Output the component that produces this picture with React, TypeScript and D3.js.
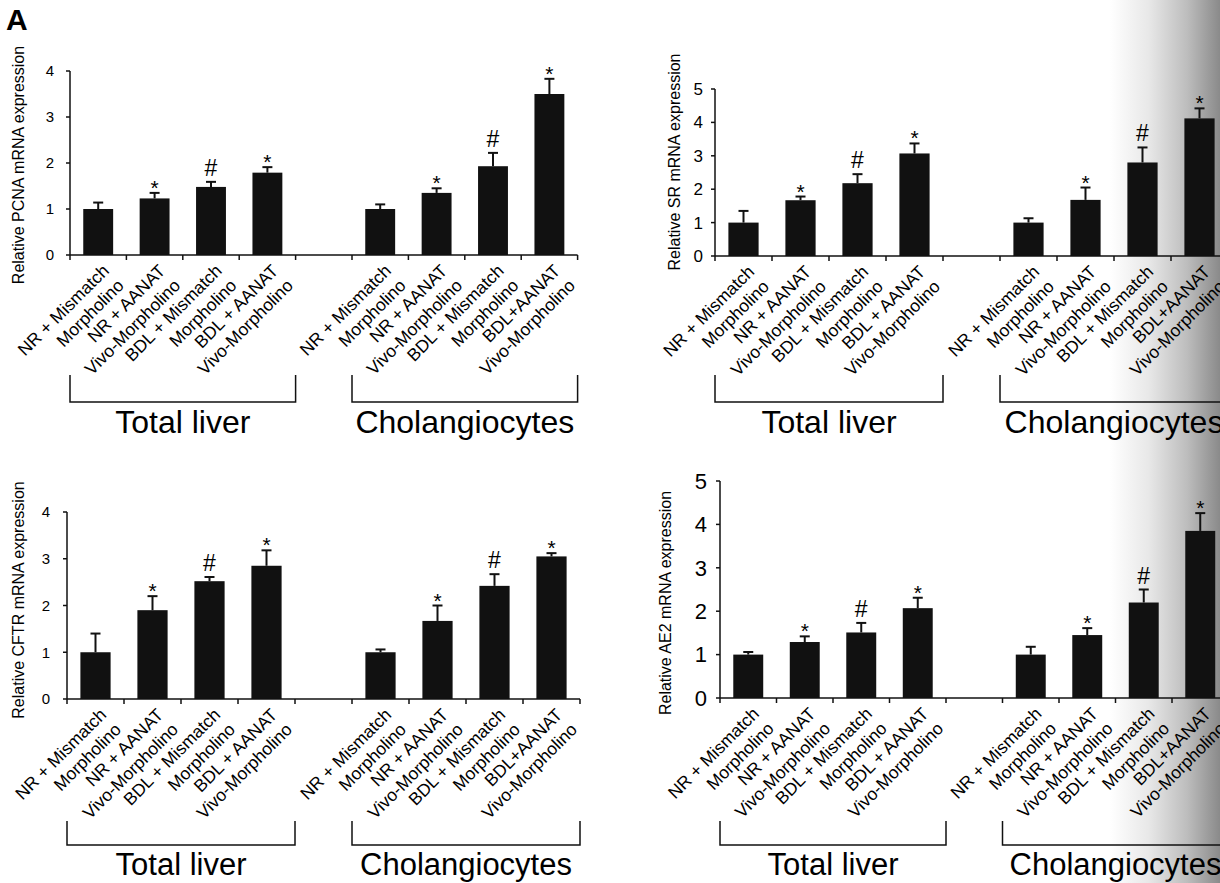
import React from "react";
import * as d3 from "d3";

// bar labels (two lines each), 4 total liver + 4 cholangiocytes
const labelLines = [
  ["NR + Mismatch", "Morpholino"],
  ["NR + AANAT", "Vivo-Morpholino"],
  ["BDL + Mismatch", "Morpholino"],
  ["BDL + AANAT", "Vivo-Morpholino"],
  ["NR + Mismatch", "Morpholino"],
  ["NR + AANAT", "Vivo-Morpholino"],
  ["BDL + Mismatch", "Morpholino"],
  ["BDL+AANAT", "Vivo-Morpholino"],
];
const slots = ["t1", "t2", "t3", "t4", "gap", "c1", "c2", "c3", "c4"];
const groups = ["Total liver", "Cholangiocytes"];
const markers = ["", "*", "#", "*", "", "*", "#", "*"];

const pcnaMean = [1.0, 1.23, 1.48, 1.79, 1.0, 1.35, 1.93, 3.5];
const pcnaErr = [0.14, 0.12, 0.11, 0.12, 0.1, 0.1, 0.29, 0.33];
const srMean = [1.0, 1.67, 2.18, 3.07, 1.0, 1.68, 2.8, 4.12];
const srErr = [0.35, 0.11, 0.27, 0.3, 0.13, 0.37, 0.45, 0.3];
const cftrMean = [1.0, 1.9, 2.52, 2.85, 1.0, 1.67, 2.42, 3.05];
const cftrErr = [0.4, 0.3, 0.09, 0.33, 0.06, 0.33, 0.25, 0.07];
const ae2Mean = [1.0, 1.29, 1.51, 2.07, 1.0, 1.45, 2.2, 3.85];
const ae2Err = [0.06, 0.13, 0.22, 0.24, 0.18, 0.16, 0.3, 0.41];

const FONT = "'Liberation Sans', Arial, sans-serif";

const panels = [
  { title: "Relative PCNA mRNA expression", mean: pcnaMean, err: pcnaErr, yMax: 4,
    x0: 70, step: 56.4, y0: 255, yTop: 71, tickFont: 15, tickGap: 16, titleX: 24, titleY: 165,
    brTop: 375, brBot: 402, groupY: 433, groupFont: 32 },
  { title: "Relative SR mRNA expression", mean: srMean, err: srErr, yMax: 5,
    x0: 715, step: 57, y0: 256, yTop: 89, tickFont: 17, tickGap: 12, titleX: 680, titleY: 162,
    brTop: 375, brBot: 402, groupY: 433, groupFont: 32 },
  { title: "Relative CFTR mRNA expression", mean: cftrMean, err: cftrErr, yMax: 4,
    x0: 67, step: 57, y0: 699, yTop: 512, tickFont: 15, tickGap: 17, titleX: 24, titleY: 600,
    brTop: 821, brBot: 845, groupY: 875, groupFont: 31 },
  { title: "Relative AE2 mRNA expression", mean: ae2Mean, err: ae2Err, yMax: 5,
    x0: 720, step: 56.5, y0: 698, yTop: 481, tickFont: 22, tickGap: 13, titleX: 671, titleY: 603,
    brTop: 821, brBot: 845, groupY: 875, groupFont: 31 },
];

function Panel({ p }: { p: any }) {
  const x = d3.scaleBand<string>()
    .domain(slots)
    .range([p.x0, p.x0 + slots.length * p.step])
    .paddingInner(0.47)
    .paddingOuter(0.235);
  const y = d3.scaleLinear().domain([0, p.yMax]).range([p.y0, p.yTop]);
  const keys = slots.filter((s) => s !== "gap");
  const bounds = d3.range(slots.length + 1).map((k) => p.x0 + k * x.step());
  const bw = x.bandwidth();

  return (
    <g fontFamily={FONT}>
      {/* bars with upper error whisker */}
      {keys.map((k, i) => {
        const cx = (x(k) as number) + bw / 2;
        const top = y(p.mean[i]);
        const et = y(p.mean[i] + p.err[i]);
        return (
          <g key={k}>
            <line x1={cx} x2={cx} y1={top} y2={et} stroke="#111" strokeWidth={2} />
            <line x1={cx - 5} x2={cx + 5} y1={et} y2={et} stroke="#111" strokeWidth={2} />
            <rect x={x(k)} y={top} width={bw} height={p.y0 - top} fill="#111" />
            {markers[i] === "*" && (
              <text x={cx} y={et + 2} textAnchor="middle" fontSize={21}>*</text>
            )}
            {markers[i] === "#" && (
              <text x={cx} y={et - 6} textAnchor="middle" fontSize={23}>#</text>
            )}
            <g transform={`translate(${cx + 3},${p.y0 + 8}) rotate(-45)`}>
              <text textAnchor="end" fontSize={17.5} y={12.5}>{labelLines[i][0]}</text>
              <text textAnchor="end" fontSize={17.5} y={33.5}>{labelLines[i][1]}</text>
            </g>
          </g>
        );
      })}

      {/* axes */}
      <line x1={p.x0} x2={p.x0} y1={p.y0} y2={p.yTop} stroke="#111" strokeWidth={1.5} />
      <line x1={p.x0} x2={bounds[bounds.length - 1]} y1={p.y0} y2={p.y0} stroke="#111" strokeWidth={1.5} />
      {bounds.map((b, i) => (
        <line key={i} x1={b} x2={b} y1={p.y0} y2={p.y0 + 5} stroke="#111" strokeWidth={1.5} />
      ))}
      {y.ticks(p.yMax).map((t) => (
        <g key={t}>
          <line x1={p.x0 - 4} x2={p.x0} y1={y(t)} y2={y(t)} stroke="#111" strokeWidth={1.5} />
          <text x={p.x0 - p.tickGap} y={y(t)} dy="0.35em" textAnchor="end" fontSize={p.tickFont}>{t}</text>
        </g>
      ))}
      <text transform={`translate(${p.titleX},${p.titleY}) rotate(-90)`} textAnchor="middle" fontSize={16}>
        {p.title}
      </text>

      {/* group brackets */}
      {groups.map((g, gi) => {
        const a = bounds[gi * 5];
        const b = bounds[gi * 5 + 4];
        return (
          <g key={g}>
            <path d={`M${a},${p.brTop}V${p.brBot}H${b}V${p.brTop}`} fill="none" stroke="#111" strokeWidth={1.5} />
            <text x={(a + b) / 2} y={p.groupY} textAnchor="middle" fontSize={p.groupFont}>{g}</text>
          </g>
        );
      })}
    </g>
  );
}

export default function App() {
  return (
    <div style={{ position: "absolute", left: 0, top: 0 }}>
      <svg width={1220} height={883} style={{ display: "block", background: "#fff" }}>
        <defs>
          <linearGradient id="scanShade" x1="0" x2="1" y1="0" y2="0">
            <stop offset="0" stopColor="#fff" />
            <stop offset="0.35" stopColor="#e8e8e8" />
            <stop offset="0.7" stopColor="#bdbdbd" />
            <stop offset="1" stopColor="#8a8a8a" />
          </linearGradient>
        </defs>
        <rect x={1110} y={0} width={110} height={883} fill="url(#scanShade)" />
        <text x={6} y={30} fontFamily={FONT} fontWeight="bold" fontSize={30}>A</text>
        {panels.map((p, i) => (
          <Panel key={i} p={p} />
        ))}
      </svg>
    </div>
  );
}
